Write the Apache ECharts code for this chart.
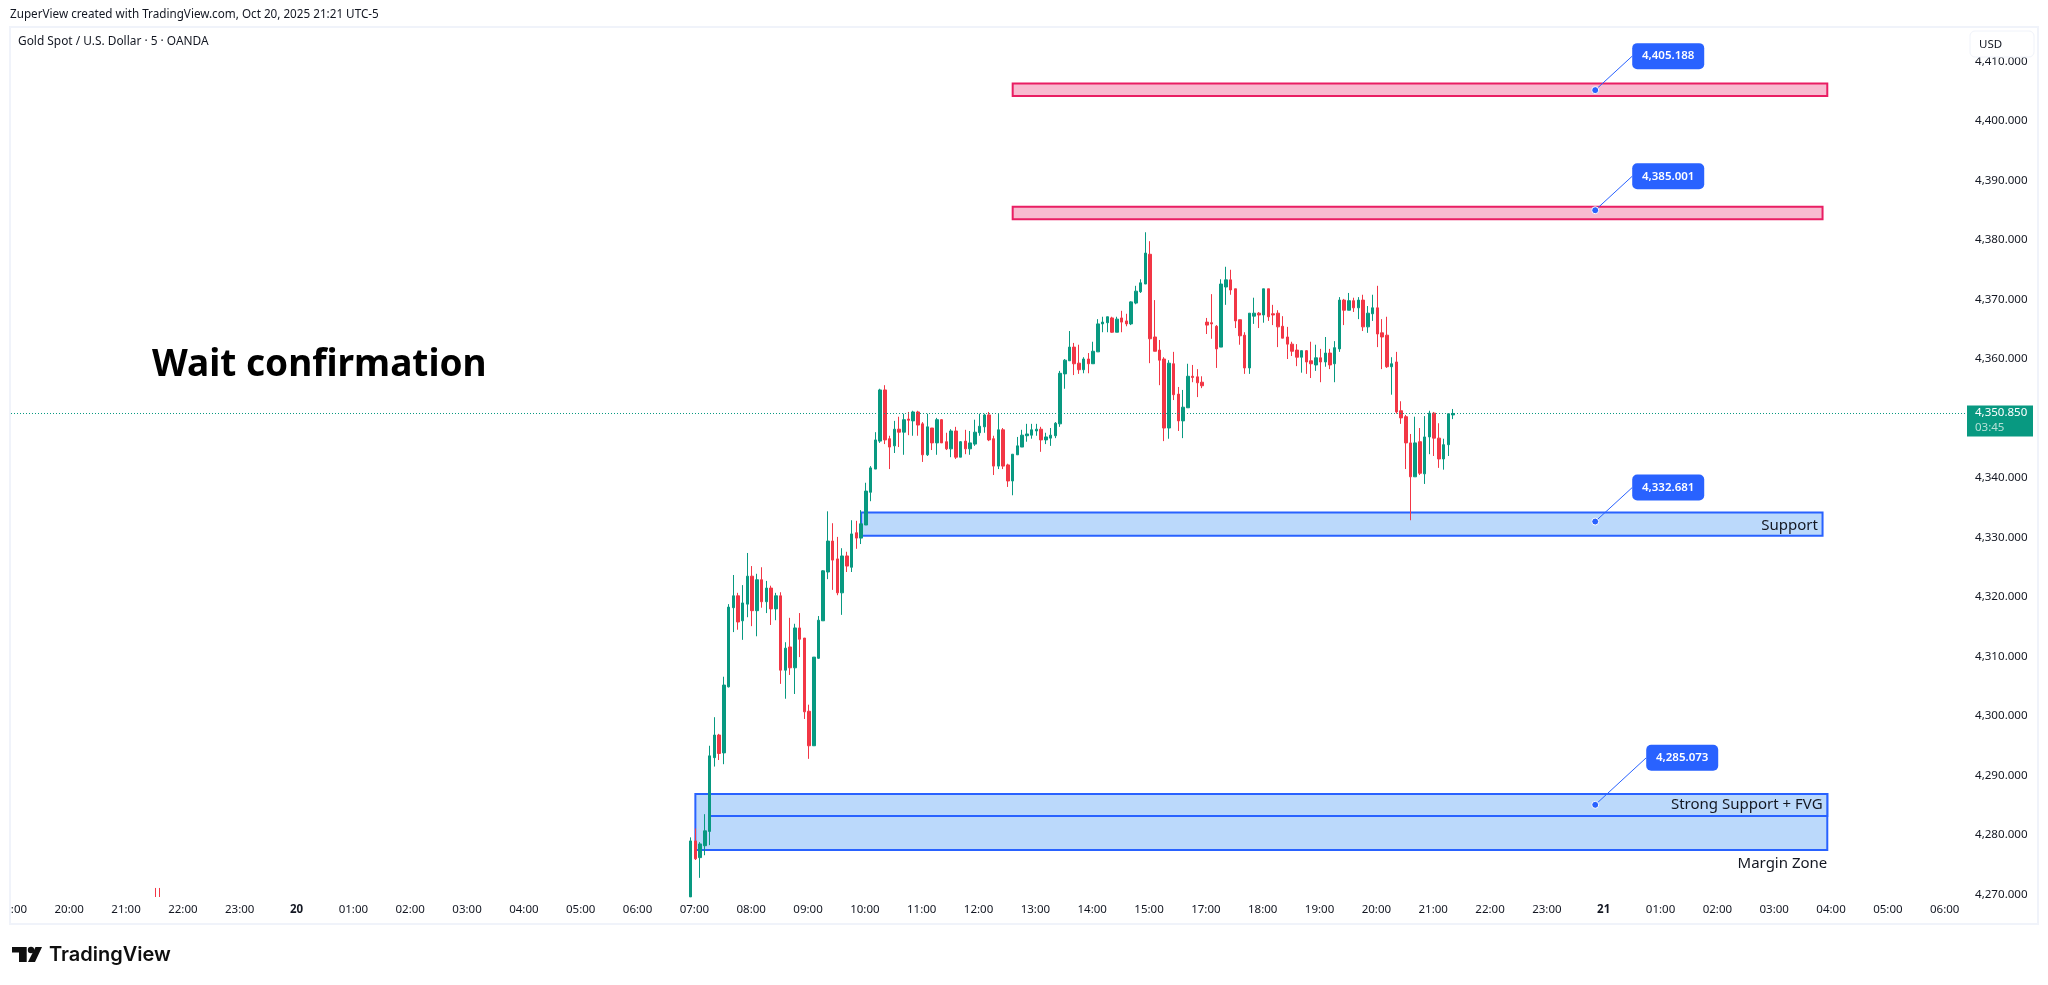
<!DOCTYPE html>
<html>
<head>
<meta charset="utf-8">
<title>Gold Spot / U.S. Dollar</title>
<script src="https://cdn.jsdelivr.net/npm/echarts@6/dist/echarts.min.js"></script>
<style>
	html, body { margin: 0; padding: 0; background: #fff; }
	#chart { width: 2048px; height: 985px; }
</style>
</head>
<body>
<div id="chart"></div>
<script>
// hour labels along the time axis, 16:00 is the daily break so it is missing
var hourLabels = ['19:00', '20:00', '21:00', '22:00', '23:00', '20',
	'01:00', '02:00', '03:00', '04:00', '05:00', '06:00', '07:00', '08:00', '09:00', '10:00',
	'11:00', '12:00', '13:00', '14:00', '15:00', '17:00', '18:00', '19:00', '20:00', '21:00',
	'22:00', '23:00', '21', '01:00', '02:00', '03:00', '04:00', '05:00', '06:00'];
var boldLabels = ['20', '21'];
var yTicks = { min: 4260, max: 4420, interval: 10 };

// [open, close, low, high]
var oldBarSlots = [30, 31];
var oldBars = [[4269.0, 4268.9, 4268.9, 4271.1], [4269.0, 4268.9, 4268.9, 4271.1]];

var firstBarSlot = 143;
var barsMorning = [
	[4269.6, 4279.0, 4269.6, 4279.6], [4279.0, 4276.0, 4275.8, 4281.1], [4276.2, 4278.5, 4272.8, 4278.8],
	[4278.2, 4280.7, 4276.6, 4283.5], [4280.6, 4293.3, 4278.3, 4295.0], [4293.0, 4296.8, 4291.5, 4299.8],
	[4296.8, 4293.7, 4292.6, 4297.0], [4293.8, 4305.2, 4291.9, 4306.6], [4304.9, 4318.3, 4304.8, 4318.8],
	[4318.2, 4320.2, 4314.1, 4323.7], [4320.2, 4315.8, 4314.5, 4320.7], [4316.0, 4319.0, 4312.8, 4322.0],
	[4318.8, 4323.5, 4316.6, 4327.4], [4323.5, 4317.7, 4315.1, 4325.2], [4317.7, 4322.9, 4313.4, 4323.9],
	[4322.9, 4319.2, 4318.2, 4325.0], [4319.2, 4321.5, 4317.3, 4322.7], [4321.5, 4318.0, 4315.3, 4321.9],
	[4318.0, 4320.2, 4316.1, 4320.7], [4320.2, 4307.7, 4305.4, 4320.8], [4307.7, 4311.4, 4302.9, 4312.4],
	[4311.6, 4308.1, 4306.9, 4316.5], [4308.1, 4314.8, 4303.7, 4315.5], [4314.8, 4312.9, 4309.9, 4317.3],
	[4313.1, 4300.7, 4299.5, 4313.1], [4300.8, 4295.0, 4292.8, 4301.9], [4295.0, 4309.9, 4295.0, 4309.9],
	[4309.7, 4316.1, 4309.6, 4316.8], [4316.0, 4324.4, 4316.0, 4324.5], [4324.2, 4329.4, 4323.0, 4334.4],
	[4329.4, 4326.2, 4321.2, 4332.4], [4326.4, 4320.7, 4320.3, 4330.1], [4320.7, 4326.9, 4317.0, 4328.2],
	[4326.9, 4325.2, 4324.2, 4327.6], [4325.0, 4330.6, 4324.2, 4332.9], [4330.8, 4329.9, 4328.1, 4332.8],
	[4329.9, 4332.3, 4328.9, 4334.6], [4332.1, 4337.8, 4332.1, 4339.2]
];
var barsMidday = [
	[4337.6, 4341.7, 4336.1, 4342.0], [4341.5, 4346.4, 4341.5, 4347.7], [4346.2, 4354.8, 4345.9, 4355.0],
	[4354.8, 4346.4, 4345.7, 4355.6], [4346.6, 4345.2, 4341.5, 4347.1], [4345.4, 4348.2, 4344.2, 4349.6],
	[4348.2, 4347.7, 4345.2, 4350.3], [4347.7, 4349.8, 4343.9, 4350.8], [4349.9, 4349.7, 4347.2, 4351.1],
	[4349.6, 4351.1, 4347.1, 4351.3], [4351.1, 4348.9, 4347.1, 4351.3], [4349.1, 4343.9, 4342.7, 4349.4],
	[4343.9, 4348.6, 4343.7, 4350.8], [4348.4, 4345.9, 4344.7, 4348.4], [4345.9, 4349.8, 4343.9, 4350.1],
	[4349.8, 4345.9, 4345.9, 4349.9], [4346.1, 4344.9, 4344.7, 4347.6], [4344.9, 4347.9, 4343.5, 4348.2],
	[4347.9, 4343.5, 4343.2, 4348.6], [4343.5, 4346.1, 4343.5, 4346.2], [4346.2, 4344.9, 4344.0, 4348.1],
	[4344.9, 4345.9, 4343.9, 4347.9], [4345.7, 4347.7, 4345.4, 4349.8], [4347.6, 4348.7, 4347.1, 4350.8],
	[4348.6, 4350.6, 4347.6, 4350.8], [4350.6, 4346.4, 4346.2, 4351.1], [4346.6, 4342.0, 4340.5, 4347.1],
	[4342.0, 4348.1, 4341.5, 4350.8], [4348.1, 4342.0, 4341.5, 4348.4], [4342.2, 4339.5, 4338.5, 4342.4],
	[4339.5, 4344.0, 4337.1, 4344.0], [4343.9, 4345.4, 4343.9, 4346.9], [4345.2, 4347.2, 4345.2, 4348.1],
	[4347.1, 4347.4, 4346.1, 4349.1], [4347.2, 4348.1, 4346.6, 4349.1], [4347.9, 4348.2, 4347.1, 4349.1],
	[4348.2, 4346.4, 4344.4, 4348.6], [4346.4, 4346.9, 4345.7, 4347.6], [4346.7, 4347.2, 4345.4, 4348.4],
	[4347.1, 4349.2, 4346.7, 4349.4], [4349.1, 4357.6, 4348.6, 4358.0]
];
var barsAfternoon = [
	[4357.5, 4359.8, 4355.0, 4360.0], [4359.7, 4362.0, 4359.7, 4364.7], [4362.0, 4359.2, 4357.3, 4362.7],
	[4359.3, 4358.2, 4357.5, 4362.4], [4358.2, 4360.0, 4357.6, 4360.3], [4360.0, 4359.2, 4357.6, 4361.0],
	[4359.2, 4361.3, 4359.2, 4362.9], [4361.2, 4365.9, 4361.2, 4366.7], [4365.9, 4366.2, 4364.5, 4367.1],
	[4366.1, 4367.1, 4364.5, 4367.1], [4366.9, 4364.5, 4364.4, 4367.1], [4364.5, 4366.7, 4364.5, 4367.1],
	[4366.9, 4366.2, 4364.5, 4368.1], [4366.4, 4365.9, 4365.5, 4367.6], [4365.9, 4369.6, 4365.7, 4369.7],
	[4369.4, 4371.4, 4369.2, 4372.3], [4371.3, 4372.8, 4371.1, 4373.4], [4372.6, 4377.8, 4372.6, 4381.3],
	[4377.6, 4363.4, 4359.3, 4379.8], [4363.7, 4361.3, 4361.3, 4369.9], [4361.5, 4359.8, 4355.6, 4363.2],
	[4360.0, 4348.4, 4346.2, 4360.3], [4348.4, 4359.3, 4346.6, 4359.8], [4359.2, 4354.0, 4353.1, 4361.2],
	[4354.1, 4349.6, 4347.9, 4355.3], [4349.6, 4351.9, 4346.7, 4354.8], [4351.8, 4357.1, 4351.8, 4359.2],
	[4357.1, 4356.9, 4356.1, 4359.0], [4357.0, 4356.0, 4353.6, 4358.3], [4356.1, 4355.5, 4355.1, 4357.1],
	[4366.2, 4365.7, 4364.2, 4366.9], [4366.1, 4365.9, 4363.4, 4370.9], [4365.5, 4361.7, 4358.5, 4365.7],
	[4362.0, 4372.6, 4362.0, 4373.4], [4372.1, 4373.3, 4369.1, 4375.5], [4373.3, 4371.6, 4370.8, 4375.0],
	[4371.8, 4366.4, 4365.2, 4371.8], [4366.6, 4363.9, 4362.4, 4366.6], [4364.0, 4358.5, 4357.5, 4364.5],
	[4358.5, 4367.7, 4357.5, 4367.7], [4367.2, 4367.7, 4365.9, 4370.3], [4367.7, 4367.4, 4365.2, 4367.9],
	[4367.4, 4371.8, 4366.1, 4371.8], [4371.8, 4367.1, 4366.4, 4371.8], [4367.6, 4367.4, 4365.7, 4369.1],
	[4367.7, 4365.4, 4362.0, 4368.2], [4365.5, 4363.5, 4363.5, 4367.2], [4363.7, 4362.5, 4360.0, 4365.4],
	[4362.5, 4361.3, 4360.5, 4362.9], [4361.5, 4360.3, 4358.8, 4362.5]
];
var barsEvening = [
	[4360.3, 4361.4, 4357.7, 4361.4], [4361.4, 4359.5, 4357.5, 4361.5], [4359.7, 4359.2, 4356.8, 4362.9],
	[4359.0, 4360.2, 4358.0, 4362.4], [4360.2, 4359.5, 4356.1, 4361.7], [4359.5, 4361.0, 4358.7, 4363.7],
	[4361.0, 4359.0, 4358.3, 4361.7], [4359.2, 4361.9, 4356.1, 4363.0], [4361.7, 4369.9, 4361.2, 4370.4],
	[4369.9, 4368.2, 4365.7, 4370.1], [4368.2, 4369.8, 4368.2, 4371.1], [4369.8, 4368.6, 4367.9, 4370.3],
	[4368.6, 4369.9, 4366.7, 4370.4], [4369.9, 4365.4, 4364.7, 4370.8], [4365.4, 4367.7, 4364.4, 4368.9],
	[4367.6, 4368.6, 4366.4, 4370.8], [4368.6, 4364.2, 4362.0, 4372.3], [4364.4, 4363.7, 4358.3, 4366.7],
	[4364.0, 4358.7, 4358.5, 4367.1], [4358.7, 4359.2, 4354.0, 4360.3], [4359.5, 4351.1, 4350.8, 4361.2],
	[4351.3, 4350.1, 4349.1, 4352.9], [4350.3, 4345.9, 4341.5, 4350.6], [4345.9, 4340.2, 4332.9, 4347.4],
	[4340.2, 4345.9, 4340.2, 4350.3], [4346.1, 4340.8, 4340.5, 4348.4], [4340.7, 4346.9, 4339.0, 4350.4],
	[4346.9, 4350.9, 4344.0, 4351.3], [4350.9, 4346.7, 4343.7, 4351.1], [4346.7, 4343.2, 4341.7, 4349.2],
	[4343.2, 4345.6, 4341.4, 4346.6], [4345.6, 4350.8, 4343.7, 4350.8], [4350.6, 4350.85, 4349.9, 4351.6]
];

var lastPrice = 4350.85;
var lastPriceText = '4,350.850';
var countdownText = '03:45';

// zones: slots on the time axis, prices on the y axis
var zoneKinds = ['red', 'red', 'blue', 'blue', 'blue'];
var zoneStart = [211, 211, 179, 144, 147];
var zoneEnd = [383, 382, 382, 383, 383];
var zoneTop = [4406.3, 4385.6, 4334.2, 4286.9, 4286.9];
var zoneBottom = [4404.2, 4383.5, 4330.3, 4277.5, 4283.2];

var noteTexts = ['Support', 'Strong Support + FVG', 'Margin Zone'];
var noteSlots = [381, 382, 383];
var notePrices = [4331.9, 4285.1, 4275.1];

var calloutTexts = ['4,405.188', '4,385.001', '4,332.681', '4,285.073'];
var calloutSlots = [334, 334, 334, 334];
var calloutPrices = [4405.188, 4385.001, 4332.681, 4285.073];

var labelFont = '"Noto Sans", sans-serif';
var upColor = '#089981';
var downColor = '#F23645';
var zoneFill = { red: '#f8bbd0', blue: '#bbd9fb' };
var zoneStroke = { red: '#e91e63', blue: '#2962ff' };

var categories = [];
hourLabels.forEach(function (h) {
	for (var m = 0; m < 12; m++) {
		categories.push(m === 0 ? h : '');
	}
});
categories = categories.slice(0, 413);

var barRows = [];
oldBars.forEach(function (b, i) {
	barRows.push([oldBarSlots[i]].concat(b));
});
barsMorning.concat(barsMidday, barsAfternoon, barsEvening).forEach(function (b, i) {
	barRows.push([firstBarSlot + i].concat(b));
});

var zoneRows = zoneKinds.map(function (k, i) {
	return [zoneStart[i], zoneEnd[i], zoneTop[i], zoneBottom[i]];
});
var noteRows = noteTexts.map(function (t, i) {
	return [noteSlots[i], notePrices[i]];
});
var calloutRows = calloutTexts.map(function (t, i) {
	return [calloutSlots[i], calloutPrices[i]];
});

function renderZone(params, api) {
	var a = api.coord([api.value(0), api.value(2)]);
	var b = api.coord([api.value(1), api.value(3)]);
	var kind = zoneKinds[params.dataIndex];
	return {
		type: 'rect',
		shape: { x: a[0], y: a[1], width: b[0] - a[0], height: b[1] - a[1] },
		style: { fill: zoneFill[kind], stroke: zoneStroke[kind], lineWidth: 2 }
	};
}

function renderNote(params, api) {
	var p = api.coord([api.value(0), api.value(1)]);
	return {
		type: 'text',
		style: {
			x: p[0], y: p[1],
			text: noteTexts[params.dataIndex],
			fill: '#131722',
			font: '15px ' + labelFont,
			align: 'right',
			verticalAlign: 'middle'
		}
	};
}

function renderCallout(params, api) {
	var p = api.coord([api.value(0), api.value(1)]);
	// the last callout sits further out in the drawing
	var dx = params.dataIndex === 3 ? 51 : 37;
	var dy = params.dataIndex === 3 ? -60 : -47;
	return {
		type: 'group',
		children: [
			{ type: 'line', shape: { x1: p[0], y1: p[1], x2: p[0] + dx, y2: p[1] + dy + 13 }, style: { stroke: '#2962ff', lineWidth: 1 } },
			{ type: 'circle', shape: { cx: p[0], cy: p[1], r: 3.5 }, style: { fill: '#2962ff', stroke: '#fff', lineWidth: 1 } },
			{ type: 'rect', shape: { x: p[0] + dx, y: p[1] + dy, width: 72, height: 26, r: 5 }, style: { fill: '#2962ff' } },
			{
				type: 'text',
				style: {
					x: p[0] + dx + 36, y: p[1] + dy + 13,
					text: calloutTexts[params.dataIndex],
					fill: '#fff',
					font: '600 11.5px ' + labelFont,
					align: 'center',
					verticalAlign: 'middle'
				}
			}
		]
	};
}

function renderPriceTag(params, api) {
	var y = api.coord([0, api.value(1)])[1];
	var x = params.coordSys.x + params.coordSys.width;
	return {
		type: 'group',
		children: [
			{ type: 'rect', shape: { x: x, y: y - 8, width: 66, height: 31 }, style: { fill: upColor } },
			{ type: 'text', style: { x: x + 8, y: y - 1, text: lastPriceText, fill: '#fff', font: '11.5px ' + labelFont, verticalAlign: 'middle' } },
			{ type: 'text', style: { x: x + 8, y: y + 14, text: countdownText, fill: '#b5e0d6', font: '11.5px ' + labelFont, verticalAlign: 'middle' } }
		]
	};
}

var chartDom = document.getElementById('chart');
var myChart = echarts.init(chartDom);
var option = {
	animation: false,
	backgroundColor: '#ffffff',
	textStyle: { fontFamily: labelFont },
	grid: { left: 11, top: 2, width: 1956, height: 952, outerBoundsMode: 'none' },
	xAxis: {
		type: 'category',
		data: categories,
		boundaryGap: true,
		offset: -50,
		axisLine: { show: false },
		axisTick: { show: false },
		splitLine: { show: false },
		axisLabel: {
			interval: 11,
			margin: 0,
			color: '#131722',
			fontSize: 11.5,
			fontFamily: labelFont,
			hideOverlap: false,
			padding: [0, 2, 0, 0],
			formatter: function (v) {
				return boldLabels.indexOf(v) >= 0 ? '{b|' + v + '}' : v;
			},
			rich: { b: { fontWeight: 'bold', fontSize: 11.5, fontFamily: labelFont, color: '#131722' } }
		}
	},
	yAxis: {
		type: 'value',
		position: 'right',
		min: yTicks.min,
		max: yTicks.max,
		interval: yTicks.interval,
		scale: true,
		axisLine: { show: false },
		axisTick: { show: false },
		splitLine: { show: false },
		axisLabel: {
			margin: 8,
			color: '#131722',
			fontSize: 11.6,
			fontFamily: labelFont,
			showMinLabel: false,
			showMaxLabel: false,
			formatter: function (v) {
				return v.toLocaleString('en-US', { minimumFractionDigits: 3, maximumFractionDigits: 3 });
			}
		}
	},
	series: [
		{ type: 'custom', name: 'zones', z: 1, clip: false, data: zoneRows, renderItem: renderZone, encode: { x: [0, 1], y: [2, 3] }, silent: true },
		{
			type: 'candlestick',
			name: 'XAUUSD',
			z: 2,
			barWidth: 3,
			data: barRows,
			encode: { x: 0, y: [1, 2, 3, 4] },
			itemStyle: { color: upColor, color0: downColor, borderColor: upColor, borderColor0: downColor, borderWidth: 1 },
			markLine: {
				silent: true,
				symbol: 'none',
				label: { show: false },
				lineStyle: { type: [1, 2], color: upColor, width: 1, opacity: 1 },
				data: [{ yAxis: lastPrice }]
			}
		},
		{ type: 'custom', name: 'notes', z: 3, clip: false, data: noteRows, renderItem: renderNote, encode: { x: 0, y: 1 }, silent: true },
		{ type: 'custom', name: 'callouts', z: 4, clip: false, data: calloutRows, renderItem: renderCallout, encode: { x: 0, y: 1 }, silent: true },
		{ type: 'custom', name: 'lastPrice', z: 5, clip: false, data: [[0, lastPrice]], renderItem: renderPriceTag, encode: { x: 0, y: 1 }, silent: true }
	],
	graphic: [
		// page furniture of the screenshot
		{ type: 'rect', z: 90, silent: true, shape: { x: 0, y: 895, width: 9, height: 30 }, style: { fill: '#fff' } },
		// the old bars run on below the bottom of the pane
		{ type: 'rect', z: 90, silent: true, shape: { x: 100, y: 897, width: 120, height: 7 }, style: { fill: '#fff' } },
		{ type: 'rect', z: 91, silent: true, shape: { x: 10, y: 27, width: 2028, height: 897 }, style: { fill: 'none', stroke: '#f0f3fa', lineWidth: 2 } },
		{ type: 'text', z: 92, silent: true, style: { x: 10, y: 15, text: 'ZuperView created with TradingView.com, Oct 20, 2025 21:21 UTC-5', fill: '#131722', font: '11.7px ' + labelFont, verticalAlign: 'middle' } },
		{ type: 'text', z: 92, silent: true, style: { x: 18, y: 42, text: 'Gold Spot / U.S. Dollar · 5 · OANDA', fill: '#131722', font: '11.9px ' + labelFont, verticalAlign: 'middle' } },
		{ type: 'text', z: 92, silent: true, style: { x: 152, y: 365, text: 'Wait confirmation', fill: '#000', font: 'bold 37px ' + labelFont, verticalAlign: 'middle' } },
		{ type: 'rect', z: 92, silent: true, shape: { x: 1970, y: 31, width: 64, height: 26, r: 5 }, style: { fill: '#fff', stroke: '#f0f3fa', lineWidth: 1 } },
		{ type: 'text', z: 93, silent: true, style: { x: 1979, y: 45, text: 'USD', fill: '#131722', font: '11.5px ' + labelFont, verticalAlign: 'middle' } },
		{ type: 'polygon', z: 92, silent: true, shape: { points: [[12, 947], [26.7, 947], [26.7, 962], [19, 962], [19, 952.5], [12, 952.5]] }, style: { fill: '#0f0f0f' } },
		{ type: 'circle', z: 92, silent: true, shape: { cx: 31, cy: 950, r: 3.2 }, style: { fill: '#0f0f0f' } },
		{ type: 'polygon', z: 92, silent: true, shape: { points: [[35.5, 947], [42, 947], [35, 962], [28, 962]] }, style: { fill: '#0f0f0f' } },
		{ type: 'text', z: 92, silent: true, style: { x: 49, y: 955, text: 'TradingView', fill: '#0f0f0f', font: '600 20px Inter, sans-serif', verticalAlign: 'middle' } }
	]
};
myChart.setOption(option);
</script>
</body>
</html>
